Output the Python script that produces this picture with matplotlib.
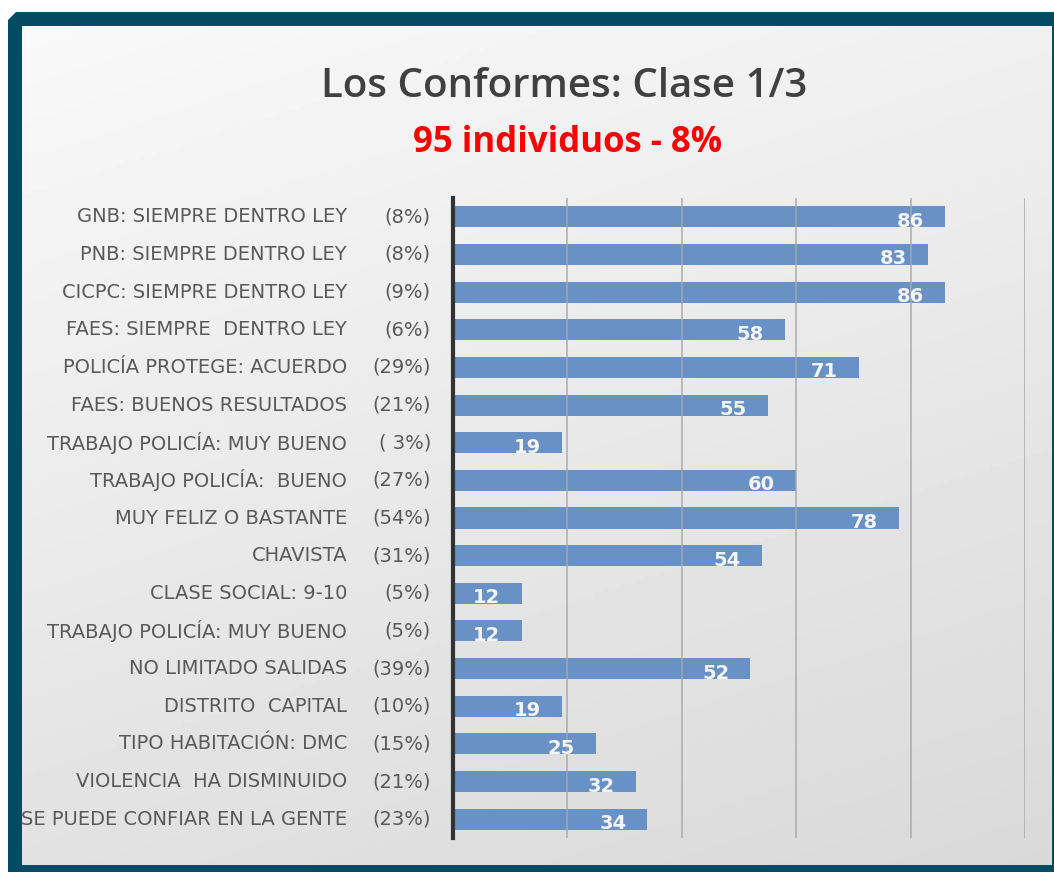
import matplotlib.pyplot as plt
import matplotlib.transforms as mtransforms
from matplotlib.patches import Polygon
import numpy as np

# Datos del grafico
categorias = ["GNB: SIEMPRE DENTRO LEY", "PNB: SIEMPRE DENTRO LEY",
              "CICPC: SIEMPRE DENTRO LEY", "FAES: SIEMPRE  DENTRO LEY",
              "POLICÍA PROTEGE: ACUERDO", "FAES: BUENOS RESULTADOS",
              "TRABAJO POLICÍA: MUY BUENO", "TRABAJO POLICÍA:  BUENO",
              "MUY FELIZ O BASTANTE", "CHAVISTA", "CLASE SOCIAL: 9-10",
              "TRABAJO POLICÍA: MUY BUENO", "NO LIMITADO SALIDAS",
              "DISTRITO  CAPITAL", "TIPO HABITACIÓN: DMC",
              "VIOLENCIA  HA DISMINUIDO", "SE PUEDE CONFIAR EN LA GENTE"]
porcentajes = ["(8%)", "(8%)", "(9%)", "(6%)", "(29%)", "(21%)", "( 3%)",
               "(27%)", "(54%)", "(31%)", "(5%)", "(5%)", "(39%)", "(10%)",
               "(15%)", "(21%)", "(23%)"]
valores = [86, 83, 86, 58, 71, 55, 19, 60, 78, 54, 12, 12, 52, 19, 25, 32, 34]

W, H = 1054, 872
fuente = 'DejaVu Sans'

fig = plt.figure(figsize=(W / 100, H / 100), dpi=100, facecolor='white')

# Fondo: marco azul petroleo con esquina recortada y degradado gris claro
bg = fig.add_axes([0, 0, 1, 1])
bg.axis('off')
marco = Polygon([(8, 20), (16, 12), (W, 12), (W, H), (8, H)], closed=True,
                facecolor='#034b63', edgecolor='none')
bg.add_patch(marco)
yy, xx = np.mgrid[0:1:200j, 0:1:200j]
grad = 0.975 - 0.09 * yy - 0.035 * xx
bg.imshow(grad, cmap='gray', vmin=0, vmax=1, extent=(22, 1052, 865, 27),
          aspect='auto', zorder=2)
bg.set_xlim(0, W)
bg.set_ylim(H, 0)

# Titulos
fig.text(564 / W, 1 - 87 / H, "Los Conformes: Clase 1/3", ha='center',
         va='center', fontsize=29, color='#404040', family='Open Sans',
         fontweight='semibold')
fig.text(568 / W, 1 - 143 / H, "95 individuos - 8%", ha='center',
         va='center', fontsize=25, color='#ff0000', family='Open Sans',
         fontweight='bold')

# Grafico de barras
x0, x1, y0, y1 = 453, 1025, 198, 838
ax = fig.add_axes([x0 / W, 1 - y1 / H, (x1 - x0) / W, (y1 - y0) / H])
ax.set_facecolor('none')
pos = np.arange(len(valores))
ax.barh(pos, valores, height=0.56, color='#6892c6', zorder=2)
ax.set_xlim(0, 100)
ax.set_ylim(len(valores) - 0.5, -0.5)
for xg in [20, 40, 60, 80, 100]:
    ax.axvline(xg, color='#a8a8a8', lw=1.3, zorder=3, alpha=0.8)
for s in ['top', 'right', 'bottom']:
    ax.spines[s].set_visible(False)
ax.spines['left'].set_color('#333333')
ax.spines['left'].set_linewidth(3)
ax.spines['left'].set_zorder(4)
ax.set_xticks([])
ax.set_yticks([])

trans = mtransforms.blended_transform_factory(ax.transAxes, ax.transData)
for i, (c, p, v) in enumerate(zip(categorias, porcentajes, valores)):
    ax.text((347 - x0) / (x1 - x0), i, c, transform=trans, ha='right',
            va='center', fontsize=14, color='#595959', family=fuente)
    ax.text((431 - x0) / (x1 - x0), i, p, transform=trans, ha='right',
            va='center', fontsize=14, color='#595959', family=fuente)
    ax.text(v - 3.7, i + 0.12, str(v), ha='right', va='center', fontsize=14,
            color='#f4f4f4', family=fuente, fontweight='semibold', zorder=5)

fig.savefig('out.png', dpi=100, facecolor='white')
